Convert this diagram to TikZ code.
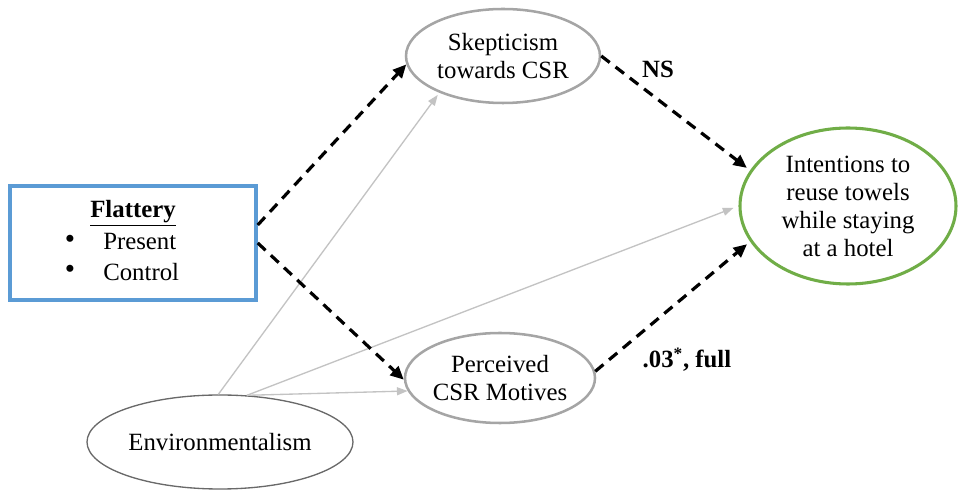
\documentclass[tikz,border=0pt]{standalone}
\usepackage{fontspec}
\setmainfont{Liberation Serif}
\usetikzlibrary{shapes.geometric,arrows.meta}
\definecolor{boxblue}{RGB}{91,155,213}
\definecolor{ovalgreen}{RGB}{112,173,71}
\definecolor{ovalgray}{RGB}{165,165,165}
\definecolor{envgray}{RGB}{105,105,105}
\definecolor{pathgray}{RGB}{195,195,195}
\begin{document}
\begin{tikzpicture}[x=0.75pt,y=-0.75pt,
  font=\fontsize{18.6}{21}\selectfont,
  oval/.style={ellipse, draw=ovalgray, line width=1.9pt, inner sep=0pt, align=center},
  mainpath/.style={draw=black, line width=2.4pt, dash pattern=on 8pt off 5.5pt,
    -{Triangle[length=10pt,width=9pt]}},
  covpath/.style={draw=pathgray, line width=1pt, -{Triangle[length=8pt,width=6pt]}},
  lbl/.style={font=\fontsize{18.6}{21}\selectfont\bfseries}]
\useasboundingbox (0,0) rectangle (958,491);

% manipulated factor
\node[draw=boxblue, line width=2.6pt, minimum width=184.5pt, minimum height=85.5pt,
  inner sep=0pt] (flat) at (133,243) {};
\node (ftitle) at (133,213) {\underline{\textbf{Flattery}}};
\node (b1) at (70,242) {\fontsize{22}{22}\selectfont\textbullet};
\node[anchor=west, inner sep=0pt] (present) at (103,242) {Present};
\node (b2) at (70,272) {\fontsize{22}{22}\selectfont\textbullet};
\node[anchor=west, inner sep=0pt] (control) at (103,272) {Control};

% mediators, covariate and outcome
\node[oval, minimum width=145.5pt, minimum height=70.5pt] (skep) at (503,56)
  {Skepticism\\towards CSR};
\node[oval, minimum width=142.5pt, minimum height=67.5pt] (perc) at (500,378)
  {Perceived\\CSR Motives};
\node[ellipse, draw=ovalgreen, line width=2.3pt, inner sep=0pt, align=center,
  minimum width=162pt, minimum height=117pt] (intent) at (848,206)
  {Intentions to\\reuse towels\\while staying\\at a hotel};
\node[ellipse, draw=envgray, line width=1pt, inner sep=0pt,
  minimum width=199.5pt, minimum height=70.5pt] (env) at (220,442) {Environmentalism};

% covariate paths
\draw[covpath, shorten >=2pt] (env.92) -- (skep.210);
\draw[covpath] (env.60) -- (perc.188);
\draw[covpath, shorten >=4pt] (env.60) -- (intent.west);

% hypothesised paths
\draw[mainpath] ([yshift=13.5pt]flat.east) -- (skep.185);
\draw[mainpath] (flat.east) -- (perc.181);
\draw[mainpath, shorten >=3pt] (skep.east) -- (intent.160);
\draw[mainpath, shorten >=3pt] (perc.4) -- (intent.200);

% path labels
\node[lbl] (ns) at (658,69) {NS};
\node[lbl] (full) at (687,360) {.03\textsuperscript{*}, full};
\end{tikzpicture}
\end{document}
